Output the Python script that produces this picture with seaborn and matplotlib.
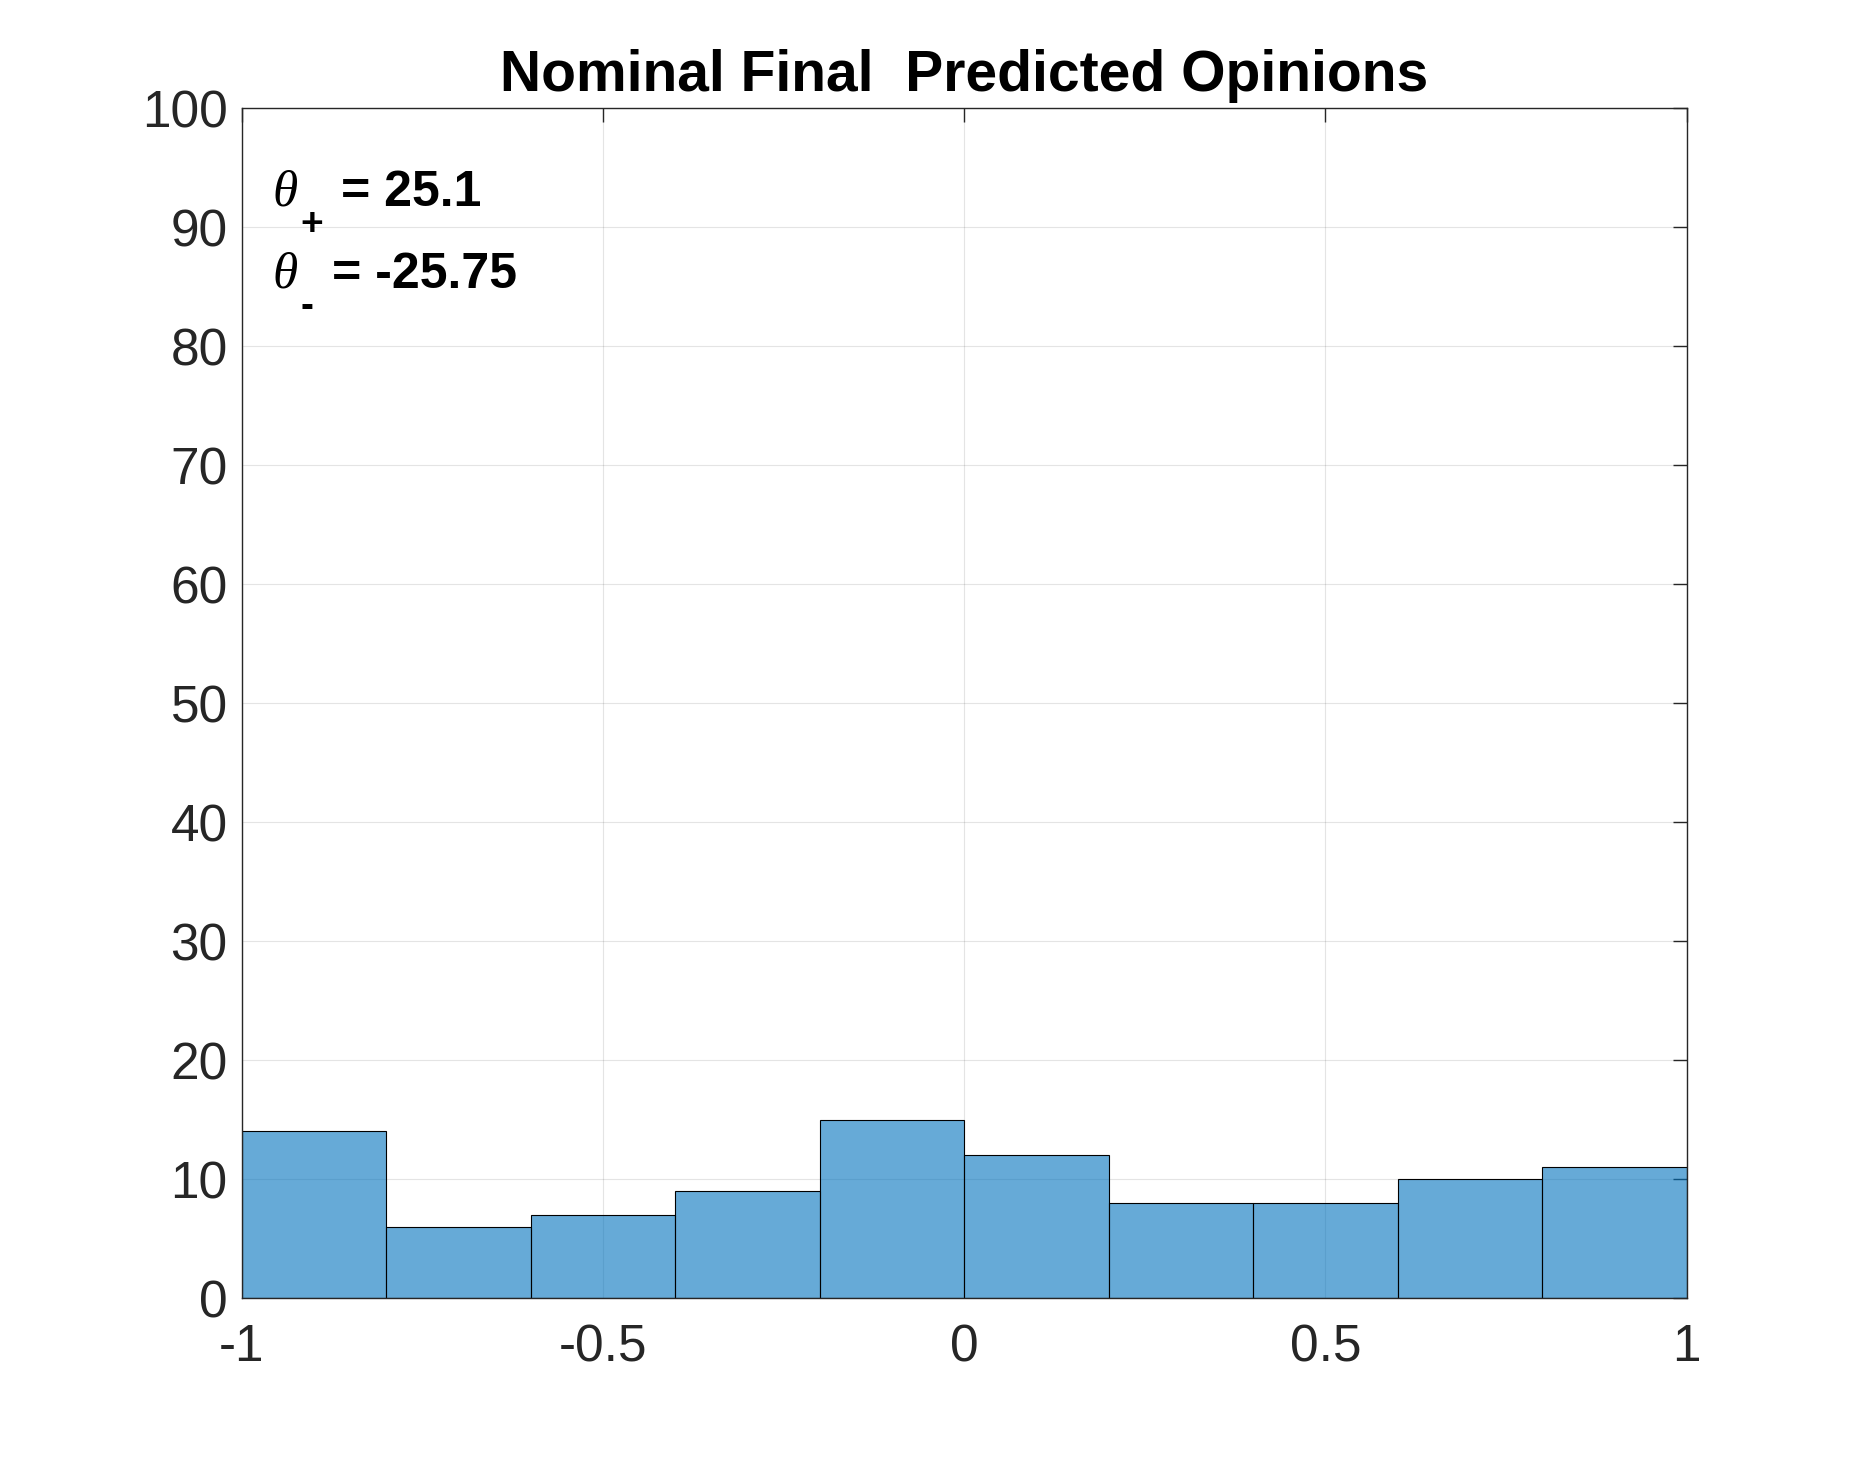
import numpy as np
import matplotlib
matplotlib.use('Agg')
import matplotlib.pyplot as plt
import seaborn as sns

# histogram data
bin_edges = [-1.0, -0.8, -0.6, -0.4, -0.2, 0.0, 0.2, 0.4, 0.6, 0.8, 1.0]
counts = [14, 6, 7, 9, 15, 12, 8, 8, 10, 11]
x_ticks = [-1, -0.5, 0, 0.5, 1]
y_ticks = list(range(0, 101, 10))
theta_plus = 25.1
theta_minus = -25.75

sns.set_style('white')
plt.rcParams['font.family'] = ['Liberation Sans', 'DejaVu Sans']

fig = plt.figure(figsize=(18.65, 14.58), dpi=100)
ax = fig.add_axes([0.1295, 0.1097, 0.7748, 0.8162])

centers = [(a + b) / 2 for a, b in zip(bin_edges[:-1], bin_edges[1:])]
sns.histplot(x=centers, weights=counts, bins=bin_edges, ax=ax,
             color=(0.0, 0.447, 0.741), alpha=0.6, edgecolor='black',
             linewidth=0.8)

ax.set_xlim(-1, 1)
ax.set_ylim(0, 100)
ax.set_xticks(x_ticks)
ax.set_xticklabels(['-1', '-0.5', '0', '0.5', '1'])
ax.set_yticks(y_ticks)
ax.set_yticklabels([str(v) for v in y_ticks])
ax.set_xlabel('')
ax.set_ylabel('')

ax.grid(True, color='#262626', alpha=0.12, linewidth=0.8)
ax.set_axisbelow(True)
for s in ax.spines.values():
    s.set_color('#262626')
    s.set_linewidth(1.0)
    s.set_visible(True)
ax.tick_params(direction='in', length=10, width=1.0, colors='#262626',
               labelsize=37, top=True, right=True)
ax.tick_params(axis='x', pad=18)
ax.tick_params(axis='y', pad=10)

ax.set_title('Nominal Final  Predicted Opinions', fontsize=41,
             fontweight='bold', color='black', pad=12)


def theta_label(y, sub, value, eq_dx):
    # theta (italic serif), bold subscript, then "= value"
    x0 = -0.957
    ax.annotate('\u03b8', xy=(x0, y), fontsize=37, family='Liberation Serif',
                style='italic', color='black', va='baseline', ha='left')
    ax.annotate(sub, xy=(x0, y), xytext=(20, -21), textcoords='offset points',
                fontsize=28, fontweight='bold', color='black',
                va='baseline', ha='left')
    ax.annotate(f'= {value}', xy=(x0, y), xytext=(eq_dx, 0),
                textcoords='offset points', fontsize=36, fontweight='bold',
                color='black', va='baseline', ha='left')


theta_label(91.8, '+', theta_plus, 49)
theta_label(84.9, '-', theta_minus, 43)

fig.savefig('out.png', dpi=100, facecolor='white')
